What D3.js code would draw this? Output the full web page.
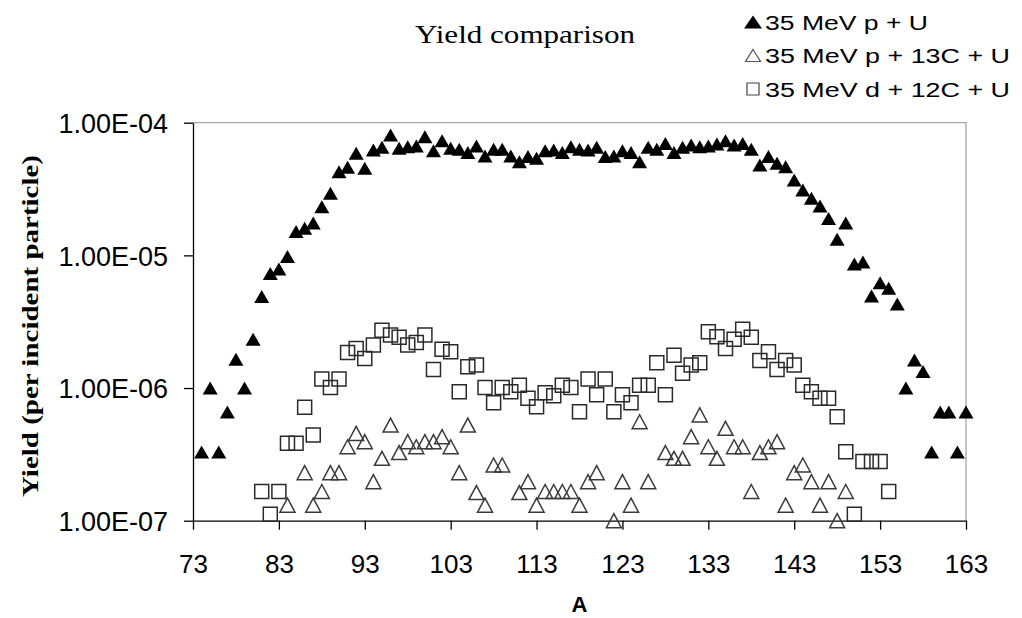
<!DOCTYPE html>
<html>
<head>
<meta charset="utf-8">
<script src="https://cdn.jsdelivr.net/npm/d3@7"></script>
<style>
  html, body { margin: 0; padding: 0; background: #fff; }
  svg { display: block; }
</style>
</head>
<body>
<svg id="chart" width="1022" height="618"></svg>
<script>
// Mass number A of each fission product
const massNumber = [
  74, 75, 76, 77, 78, 79, 80, 81, 82, 83, 84, 85, 86, 87, 88, 89, 90, 91, 92, 93,
  94, 95, 96, 97, 98, 99, 100, 101, 102, 103, 104, 105, 106, 107, 108, 109, 110, 111, 112, 113,
  114, 115, 116, 117, 118, 119, 120, 121, 122, 123, 124, 125, 126, 127, 128, 129, 130, 131, 132, 133,
  134, 135, 136, 137, 138, 139, 140, 141, 142, 143, 144, 145, 146, 147, 148, 149, 150, 151, 152, 153,
  154, 155, 156, 157, 158, 159, 160, 161, 162, 163
];

// 35 MeV p + U
const yieldPU = [
  3.3e-7, 1.0e-6, 3.3e-7, 6.6e-7, 1.65e-6, 1.0e-6, 2.33e-6, 4.9e-6, 7.3e-6, 7.9e-6,
  9.8e-6, 1.51e-5, 1.60e-5, 1.75e-5, 2.33e-5, 2.94e-5, 4.27e-5, 4.61e-5, 5.88e-5, 4.53e-5,
  6.23e-5, 6.52e-5, 8.07e-5, 6.41e-5, 6.59e-5, 6.67e-5, 7.84e-5, 6.15e-5, 7.32e-5, 6.41e-5,
  6.3e-5, 5.95e-5, 6.67e-5, 5.61e-5, 6.3e-5, 6.3e-5, 5.61e-5, 5.08e-5, 5.55e-5, 5.39e-5,
  6.15e-5, 6.23e-5, 5.95e-5, 6.59e-5, 6.3e-5, 6.23e-5, 6.52e-5, 5.55e-5, 5.61e-5, 6.15e-5,
  5.95e-5, 5.08e-5, 6.52e-5, 6.3e-5, 6.98e-5, 5.95e-5, 6.52e-5, 6.79e-5, 6.59e-5, 6.67e-5,
  6.91e-5, 7.32e-5, 6.79e-5, 6.98e-5, 6.3e-5, 4.8e-5, 5.55e-5, 4.95e-5, 4.65e-5, 3.7e-5,
  3.11e-5, 2.69e-5, 2.36e-5, 1.90e-5, 1.32e-5, 1.75e-5, 8.6e-6, 8.9e-6, 4.94e-6, 6.22e-6,
  5.65e-6, 4.3e-6, 1.0e-6, 1.63e-6, 1.33e-6, 3.3e-7, 6.6e-7, 6.6e-7, 3.3e-7, 6.6e-7
];

// 35 MeV p + 13C + U (null: no yield on the plotted range)
const yieldP13CU = [
  null, null, null, null, null, null, null, null, null, null,
  1.31e-7, null, 2.3e-7, 1.31e-7, 1.66e-7, 2.3e-7, 2.3e-7, 3.61e-7, 4.55e-7, 3.94e-7,
  1.97e-7, 2.95e-7, 5.26e-7, 3.26e-7, 3.94e-7, 3.61e-7, 3.94e-7, 3.94e-7, 4.3e-7, 3.61e-7,
  2.3e-7, 5.26e-7, 1.63e-7, 1.31e-7, 2.63e-7, 2.63e-7, null, 1.63e-7, 1.97e-7, 1.31e-7,
  1.66e-7, 1.66e-7, 1.66e-7, 1.66e-7, 1.31e-7, 1.97e-7, 2.3e-7, null, 1.0e-7, 1.97e-7,
  1.31e-7, 5.57e-7, 1.97e-7, null, 3.26e-7, 2.95e-7, 2.95e-7, 4.3e-7, 6.27e-7, 3.61e-7,
  2.95e-7, 4.97e-7, 3.61e-7, 3.61e-7, 1.66e-7, 3.26e-7, 3.61e-7, 3.94e-7, 1.31e-7, 2.3e-7,
  2.63e-7, 1.97e-7, 1.31e-7, 1.97e-7, 1.0e-7, 1.66e-7, null, null, null, null,
  null, null, null, null, null, null, null, null, null, null
];

// 35 MeV d + 12C + U
const yieldD12CU = [
  null, null, null, null, null, null, null, 1.66e-7, 1.12e-7, 1.66e-7,
  3.83e-7, 3.83e-7, 7.16e-7, 4.43e-7, 1.17e-6, 1.01e-6, 1.17e-6, 1.85e-6, 1.99e-6, 1.67e-6,
  2.11e-6, 2.73e-6, 2.51e-6, 2.41e-6, 2.11e-6, 2.2e-6, 2.51e-6, 1.38e-6, 1.96e-6, 1.88e-6,
  9.38e-7, 1.45e-6, 1.49e-6, 1.01e-6, 7.76e-7, 1.01e-6, 9.38e-7, 1.05e-6, 8.36e-7, 7.23e-7,
  9.22e-7, 8.75e-7, 1.05e-6, 1.01e-6, 6.64e-7, 1.17e-6, 8.9e-7, 1.17e-6, 6.64e-7, 8.9e-7,
  7.76e-7, 1.05e-6, 1.05e-6, 1.55e-6, 8.9e-7, 1.77e-6, 1.29e-6, 1.49e-6, 1.55e-6, 2.66e-6,
  2.44e-6, 1.99e-6, 2.33e-6, 2.77e-6, 2.41e-6, 1.61e-6, 1.88e-6, 1.38e-6, 1.61e-6, 1.49e-6,
  1.05e-6, 9.38e-7, 8.36e-7, 8.36e-7, 6.08e-7, 3.31e-7, 1.12e-7, 2.79e-7, 2.79e-7, 2.79e-7,
  1.66e-7, null, null, null, null, null, null, null, null, null
];

const seriesNames = ["35 MeV p + U", "35 MeV p + 13C + U", "35 MeV d + 12C + U"];
const xTickValues = [73, 83, 93, 103, 113, 123, 133, 143, 153, 163];
const yTickValues = [1e-4, 1e-5, 1e-6, 1e-7];
const yTickLabels = ["1.00E-04", "1.00E-05", "1.00E-06", "1.00E-07"];

const svg = d3.select("#chart");
const plot = { left: 193, right: 966, top: 122.7, bottom: 520.7 };

const x = d3.scaleLinear().domain([73, 163]).range([plot.left, plot.right]);
const y = d3.scaleLog().domain([1e-7, 1e-4]).range([plot.bottom, plot.top]);

// Plot frame: grey top/right edges, black axes
svg.append("path")
  .attr("d", `M${plot.left},${plot.top}H${plot.right}V${plot.bottom}`)
  .attr("fill", "none").attr("stroke", "#a6a6a6").attr("stroke-width", 1.3);

const xAxis = d3.axisBottom(x).tickValues(xTickValues).tickSize(9).tickSizeOuter(0).tickFormat(d3.format("d"));
const gx = svg.append("g").attr("transform", `translate(0,${plot.bottom})`).call(xAxis);
gx.select(".domain").attr("stroke", "#000").attr("stroke-width", 1.3);
gx.selectAll(".tick line").attr("stroke", "#000").attr("stroke-width", 1.3);
gx.selectAll(".tick text")
  .attr("font-family", "Liberation Sans, Arial, sans-serif").attr("font-size", 26)
  .attr("fill", "#000").attr("y", 0).attr("dy", 0)
  .attr("transform", "translate(0,52)");

const yAxis = d3.axisLeft(y).tickValues(yTickValues).tickSize(9).tickSizeOuter(0)
  .tickFormat((d, i) => yTickLabels[i]);
const gy = svg.append("g").attr("transform", `translate(${plot.left},0)`).call(yAxis);
gy.select(".domain").attr("stroke", "#000").attr("stroke-width", 1.3);
gy.selectAll(".tick line").attr("stroke", "#000").attr("stroke-width", 1.3);
gy.selectAll(".tick text")
  .attr("font-family", "Liberation Sans, Arial, sans-serif").attr("font-size", 27)
  .attr("fill", "#000").attr("x", -25).attr("dy", "0.36em");

// Marker shapes, centred on their bounding box
function triPath(w, h) {
  return `M0,${-h / 2}L${w / 2},${h / 2}L${-w / 2},${h / 2}Z`;
}
function sqPath(s) {
  return `M${-s / 2},${-s / 2}h${s}v${s}h${-s}Z`;
}

function points(values) {
  return massNumber.map((a, i) => ({ a, v: values[i] })).filter(d => d.v != null);
}

// 35 MeV p + 13C + U: open triangles
svg.append("g").selectAll("path").data(points(yieldP13CU)).join("path")
  .attr("d", triPath(15, 14))
  .attr("transform", d => `translate(${x(d.a)},${y(d.v)})`)
  .attr("fill", "none").attr("stroke", "#3a3a3a").attr("stroke-width", 1.5);

// 35 MeV d + 12C + U: open squares
svg.append("g").selectAll("path").data(points(yieldD12CU)).join("path")
  .attr("d", sqPath(14))
  .attr("transform", d => `translate(${x(d.a)},${y(d.v)})`)
  .attr("fill", "none").attr("stroke", "#2a2a2a").attr("stroke-width", 1.5);

// 35 MeV p + U: filled triangles
svg.append("g").selectAll("path").data(points(yieldPU)).join("path")
  .attr("d", triPath(15, 13))
  .attr("transform", d => `translate(${x(d.a)},${y(d.v)})`)
  .attr("fill", "#000");

// Title
svg.append("text")
  .attr("x", 415).attr("y", 43)
  .attr("font-family", "Liberation Serif, Times New Roman, serif").attr("font-size", 25)
  .attr("textLength", 220).attr("lengthAdjust", "spacingAndGlyphs")
  .text("Yield comparison");

// Axis titles
svg.append("text")
  .attr("transform", "translate(38,326) rotate(-90)")
  .attr("text-anchor", "middle")
  .attr("font-family", "Liberation Serif, Times New Roman, serif").attr("font-size", 24)
  .attr("font-weight", "bold")
  .attr("textLength", 342).attr("lengthAdjust", "spacingAndGlyphs")
  .text("Yield (per incident particle)");

svg.append("text")
  .attr("x", (plot.left + plot.right) / 2).attr("y", 612)
  .attr("text-anchor", "middle")
  .attr("font-family", "Liberation Sans, Arial, sans-serif").attr("font-size", 22)
  .attr("font-weight", "bold")
  .text("A");

// Legend
const legendRows = [
  { name: seriesNames[0], d: triPath(18, 13), fill: "#000", stroke: "none", len: 163 },
  { name: seriesNames[1], d: triPath(15, 12), fill: "none", stroke: "#555", len: 245 },
  { name: seriesNames[2], d: sqPath(12), fill: "none", stroke: "#444", len: 245 }
];
const legend = svg.append("g");
legendRows.forEach((r, i) => {
  const cy = 22 + i * 33.5;
  legend.append("path")
    .attr("d", r.d)
    .attr("transform", `translate(753,${cy})`)
    .attr("fill", r.fill).attr("stroke", r.stroke).attr("stroke-width", 1.2);
  legend.append("text")
    .attr("x", 765).attr("y", cy + 7.5)
    .attr("font-family", "Liberation Sans, Arial, sans-serif").attr("font-size", 20)
    .attr("textLength", r.len).attr("lengthAdjust", "spacingAndGlyphs")
    .text(r.name);
});
</script>
</body>
</html>
